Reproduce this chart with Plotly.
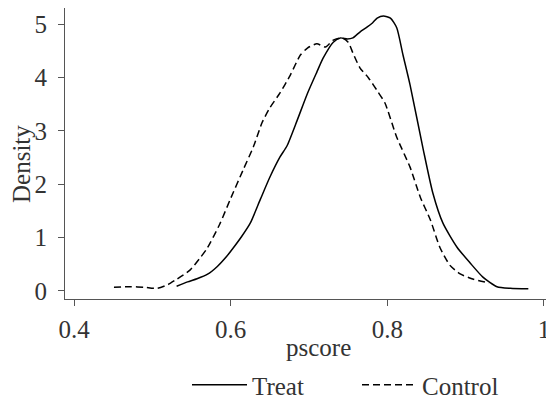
import plotly.graph_objects as go

# Kernel density estimates
control_x = [0.451, 0.472, 0.490, 0.506, 0.520, 0.529, 0.548, 0.561, 0.570, 0.586,
             0.599, 0.616, 0.629, 0.640, 0.650, 0.663, 0.676, 0.689, 0.698, 0.710,
             0.721, 0.731, 0.742, 0.750, 0.756, 0.765, 0.776, 0.788, 0.797, 0.812,
             0.829, 0.842, 0.855, 0.867, 0.880, 0.893, 0.910, 0.930]
control_y = [0.07, 0.08, 0.07, 0.05, 0.12, 0.20, 0.39, 0.62, 0.80, 1.25,
             1.70, 2.27, 2.70, 3.15, 3.43, 3.71, 4.04, 4.42, 4.55, 4.63,
             4.57, 4.70, 4.74, 4.66, 4.46, 4.18, 3.99, 3.73, 3.52, 2.88,
             2.32, 1.76, 1.33, 0.82, 0.48, 0.32, 0.22, 0.15]

treat_x = [0.531, 0.545, 0.557, 0.570, 0.583, 0.595, 0.603, 0.614, 0.625, 0.638,
           0.650, 0.663, 0.672, 0.685, 0.698, 0.710, 0.718, 0.731, 0.740, 0.749,
           0.756, 0.765, 0.774, 0.781, 0.787, 0.795, 0.804, 0.812, 0.820, 0.829,
           0.846, 0.858, 0.871, 0.889, 0.906, 0.922, 0.940, 0.957, 0.980]
treat_y = [0.09, 0.17, 0.23, 0.31, 0.46, 0.65, 0.80, 1.02, 1.27, 1.72,
           2.13, 2.51, 2.72, 3.20, 3.70, 4.10, 4.36, 4.66, 4.74, 4.72,
           4.74, 4.85, 4.94, 5.02, 5.11, 5.15, 5.11, 4.93, 4.42, 3.86,
           2.64, 1.84, 1.27, 0.82, 0.52, 0.26, 0.08, 0.05, 0.04]

x_ticks = [0.4, 0.6, 0.8, 1.0]
x_tick_labels = ["0.4", "0.6", "0.8", "1"]
y_ticks = [0, 1, 2, 3, 4, 5]

FONT = "Liberation Serif"
TEXT = "#333333"
AXIS = "#555555"
PLOT_H = 291  # plot-area height in px

fig = go.Figure()
fig.add_trace(go.Scatter(x=treat_x, y=treat_y, mode="lines", name="Treat",
                         line=dict(color="black", width=1.5, shape="spline", smoothing=0.6)))
fig.add_trace(go.Scatter(x=control_x, y=control_y, mode="lines", name="Control",
                         line=dict(color="black", width=1.5, dash="7px,4px",
                                   shape="spline", smoothing=0.6)))

# the page body adds an 8px offset, so the figure is 8px smaller than the window
fig.update_layout(
    template="none",
    width=546, height=393,
    margin=dict(l=57, r=1, t=0, b=102, autoexpand=False),
    paper_bgcolor="white", plot_bgcolor="white",
    font=dict(family=FONT, size=25, color=TEXT),
    showlegend=True,
    legend=dict(orientation="h", x=(357 - 65) / 488, xanchor="center",
                y=(299 - 385) / PLOT_H, yanchor="middle",
                font=dict(family=FONT, size=25, color=TEXT), itemwidth=55,
                entrywidth=100, entrywidthmode="pixels",
                bgcolor="rgba(0,0,0,0)", borderwidth=0),
    xaxis=dict(range=[0.3885, 1.0115], tickvals=x_ticks, ticktext=x_tick_labels,
               automargin=False,
               showgrid=False, zeroline=False, showline=True, linecolor=AXIS, linewidth=1,
               ticks="outside", ticklen=6, tickcolor=AXIS, tickwidth=1,
               ticklabeloverflow="allow", ticklabelstandoff=2,
               tickfont=dict(family=FONT, size=25, color=TEXT)),
    yaxis=dict(range=[-0.15, 5.30], tickvals=y_ticks,
               automargin=False,
               showgrid=False, zeroline=False, showline=True, linecolor=AXIS, linewidth=1,
               ticks="outside", ticklen=6, tickcolor=AXIS, tickwidth=1,
               ticklabelstandoff=6,
               tickfont=dict(family=FONT, size=25, color=TEXT)),
    annotations=[
        dict(text="pscore", xref="paper", yref="paper", x=(318 - 65) / 488, y=(299 - 347) / PLOT_H,
             xanchor="center", yanchor="middle", showarrow=False,
             font=dict(family=FONT, size=25, color=TEXT)),
        dict(text="Density", xref="paper", yref="paper", x=(21 - 65) / 488, y=(299 - 164) / PLOT_H,
             xanchor="center", yanchor="middle", showarrow=False, textangle=-90,
             font=dict(family=FONT, size=25, color=TEXT)),
    ],
)

fig.write_html("out.html")
